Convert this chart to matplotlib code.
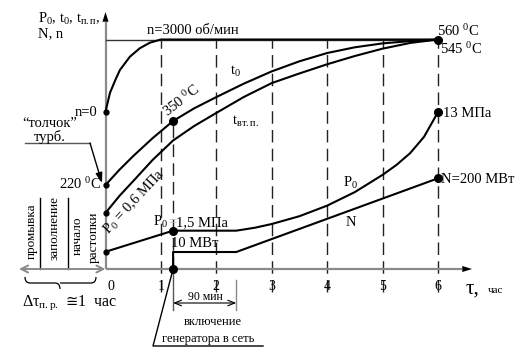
import matplotlib
matplotlib.use("Agg")
import matplotlib.pyplot as plt
from matplotlib.path import Path
from matplotlib.patches import PathPatch

plt.rcParams['font.family'] = ['Liberation Serif', 'DejaVu Sans']
plt.rcParams['mathtext.fontset'] = 'custom'
plt.rcParams['mathtext.rm'] = 'Liberation Serif'
plt.rcParams['mathtext.it'] = 'Liberation Serif'

# ---------------- data (x in hours, y in % of full scale) ----------------
x_ticks = [0, 1, 2, 3, 4, 5, 6]
tick_labels = ['0', '1', '2', '3', '4', '5', '6']

n_x = [0, 0.08, 0.18, 0.26, 0.44, 0.62, 0.8, 1.0, 6.0]
n_y = [68.5, 76.7, 82.5, 86.7, 92.5, 96.2, 98.6, 100, 100]

t0_x = [0, 0.25, 0.5, 0.85, 1.22, 1.6, 2, 2.5, 3, 3.5, 4, 4.5, 5, 5.5, 6]
t0_y = [36.6, 43.2, 49.2, 57.0, 64.5, 70.0, 74.9, 80.8, 86.1, 90.5, 94.1, 96.6, 98.3, 99.3, 100]

tvp_x = [0, 0.25, 0.5, 0.85, 1.22, 1.6, 2, 2.5, 3, 3.5, 4, 4.5, 5, 5.5, 6]
tvp_y = [24.4, 31.8, 38.3, 47.5, 56.0, 62.3, 68.0, 75.0, 81.0, 85.2, 89.2, 92.8, 96.0, 98.5, 100]

p0_x = [0, 1.22, 2.36, 2.7, 3, 3.5, 4, 4.5, 5, 5.25, 5.5, 5.75, 6]
p0_y = [7.5, 16.7, 16.7, 18.0, 19.6, 23.0, 27.6, 33.5, 41.0, 45.3, 50.5, 57.6, 68.3]

N_x = [1.22, 1.22, 2.36, 6]
N_y = [0, 7.4, 7.4, 39.5]

x_gen = 1.22        # generator switched on
x_hold_end = 2.36   # end of 90-min hold
y_350 = 64.5

# ---------------- figure ----------------
W, H = 529, 357
fig = plt.figure(figsize=(W / 100, H / 100), dpi=100)
ax = fig.add_axes([0, 0, 1, 1])
X0, SX = 105.5, 55.4
Y0, SY = 269.0, 2.295
ax.set_xlim(-X0 / SX, (W - X0) / SX)
ax.set_ylim((Y0 - H) / SY, Y0 / SY)
ax.axis('off')


def X(px):
    return (px - X0) / SX


def Y(py):
    return (Y0 - py) / SY


gray = '#8a8a8a'
ink = 'black'

# axes
ax.annotate('', xy=(X(472), 0), xytext=(0, 0),
            arrowprops=dict(arrowstyle='-|>,head_length=0.7,head_width=0.22',
                            color='black', lw=0, shrinkA=0, shrinkB=0))
ax.plot([0, X(462)], [0, 0], color=gray, lw=1.6, solid_capstyle='butt', zorder=2)
ax.annotate('', xy=(0, Y(12)), xytext=(0, 0),
            arrowprops=dict(arrowstyle='-|>,head_length=0.7,head_width=0.22',
                            color='black', lw=0, shrinkA=0, shrinkB=0))
ax.plot([0, 0], [0, Y(22)], color=gray, lw=1.6, solid_capstyle='butt', zorder=2)
# pre-start interval double arrow
ax.annotate('', xy=(X(19), 0), xytext=(0, 0),
            arrowprops=dict(arrowstyle='<->,head_length=0.5,head_width=0.25',
                            color=gray, lw=1.4, shrinkA=0, shrinkB=0))

# dashed vertical lines
for xv in x_ticks[1:]:
    ax.plot([xv, xv], [Y(292), 100], color='#222222', lw=1.0,
            dashes=(9, 4.5), zorder=1)
ax.plot([x_gen, x_gen], [0, y_350], color='#222222', lw=1.0, dashes=(9, 4.5), zorder=1)
ax.plot([x_gen, x_gen], [Y(310), 0], color='#555555', lw=1.0, zorder=1)

# tick labels
for xv, lab in zip(x_ticks, tick_labels):
    ax.text(xv + (0.1 if xv == 0 else 0), Y(286), lab, ha='center', va='center', fontsize=10)

# curves
ax.plot(n_x, n_y, color=ink, lw=1.5, zorder=3)
ax.plot([0, 6], [100, 100], color='#333333', lw=1.0, zorder=2)
ax.plot(t0_x, t0_y, color=ink, lw=1.5, zorder=3)
ax.plot(tvp_x, tvp_y, color=ink, lw=1.5, zorder=3)
ax.plot(p0_x, p0_y, color=ink, lw=1.5, zorder=3)
ax.plot(N_x, N_y, color=ink, lw=1.5, zorder=3)

# dots
small = dict(marker='o', ms=3.5, color=ink, zorder=4, ls='none')
big = dict(marker='o', ms=5.5, color=ink, zorder=4, ls='none')
ax.plot([0, 0, 0, 0], [n_y[0], t0_y[0], tvp_y[0], p0_y[0]], **small)
ax.plot([x_gen, x_gen, x_gen, 6, 6, 6],
        [y_350, p0_y[1], 0, t0_y[-1], p0_y[-1], N_y[-1]], **big)

fs = 10.5
# labels
ax.text(X(38), Y(23), r'P$_0$, t$_0$, t$_{\rm п.п}$,', fontsize=fs, ha='left', va='baseline')
ax.text(X(38), Y(37), 'N, n', fontsize=fs, ha='left', va='baseline')
ax.text(X(147), Y(34), 'n=3000 об/мин', fontsize=fs, ha='left', va='baseline')
ax.text(X(437), Y(36), r'560 $^0$C', fontsize=fs, ha='left', va='baseline')
ax.text(X(440), Y(54), r'545 $^0$C', fontsize=fs, ha='left', va='baseline')
ax.text(X(230), Y(75), r't$_0$', fontsize=fs, ha='left', va='baseline')
ax.text(X(232), Y(125), r't$_{\rm вт.п.}$', fontsize=fs, ha='left', va='baseline')
ax.text(X(343), Y(187), r'P$_0$', fontsize=fs, ha='left', va='baseline')
ax.text(X(346), Y(226), 'N', fontsize=fs, ha='left', va='baseline')
ax.text(X(443), Y(117), '13 МПа', fontsize=fs, ha='left', va='baseline')
ax.text(X(441), Y(183), 'N=200 МВт', fontsize=fs, ha='left', va='baseline')
ax.text(X(153), Y(226), r'P$_0$', fontsize=fs, ha='left', va='baseline')
ax.text(X(168), Y(225), '=', fontsize=fs, ha='left', va='baseline', color='#bbbbbb')
ax.text(X(176), Y(226), '1,5 МПа', fontsize=fs, ha='left', va='baseline')
ax.text(X(171), Y(247), '10 МВт', fontsize=fs, ha='left', va='baseline')
ax.text(X(97), Y(116), 'n=0', fontsize=fs, ha='right', va='baseline')
ax.text(X(101), Y(189), r'220 $^0$C', fontsize=fs, ha='right', va='baseline')
ax.text(X(181), Y(101), r'350 $^0$C', fontsize=fs, ha='center', va='center', rotation=38)
ax.text(X(134), Y(202), r'P$_0$ = 0,6 МПа', fontsize=fs, ha='center', va='center', rotation=47)

# tau axis label
ax.text(X(466), Y(294), 'τ,', fontsize=15, ha='left', va='baseline')
ax.text(X(488), Y(293), 'час', fontsize=8, ha='left', va='baseline')

# "толчок" callout
ax.text(X(50), Y(127), '“толчок”', fontsize=fs, ha='center', va='baseline')
ax.text(X(50), Y(141), 'турб.', fontsize=fs, ha='center', va='baseline')
ax.plot([X(25), X(90)], [Y(143), Y(143)], color='#555555', lw=1.0)
ax.annotate('', xy=(X(102), Y(183)), xytext=(X(90), Y(143)),
            arrowprops=dict(arrowstyle='-|>,head_length=0.6,head_width=0.2',
                            color='black', lw=1.0, shrinkA=0, shrinkB=0))

# pre-start stages
ax.plot([X(40), X(40)], [0, Y(198)], color=ink, lw=1.0)
ax.plot([X(68), X(68)], [0, Y(198)], color=ink, lw=1.0)
vfs = 9.5
ax.text(X(32), Y(231), 'промывка', fontsize=vfs, rotation=90, ha='center', va='center')
ax.text(X(55), Y(228), 'заполнение', fontsize=vfs, rotation=90, ha='center', va='center')
ax.text(X(78), Y(236), 'начало', fontsize=vfs, rotation=90, ha='center', va='center')
ax.text(X(94), Y(237), 'растопки', fontsize=vfs, rotation=90, ha='center', va='center')

# brace
verts = [(X(25), Y(277)), (X(25), Y(283)), (X(30), Y(283)),
         (X(55), Y(283)), (X(60), Y(283)), (X(60), Y(289)),
         (X(60), Y(283)), (X(65), Y(283)),
         (X(91), Y(283)), (X(96), Y(283)), (X(96), Y(277))]
codes = [Path.MOVETO, Path.CURVE3, Path.CURVE3,
         Path.LINETO, Path.CURVE3, Path.CURVE3,
         Path.MOVETO, Path.LINETO,
         Path.LINETO, Path.CURVE3, Path.CURVE3]
ax.add_patch(PathPatch(Path(verts, codes), fill=False, lw=0.9, color=ink))
ax.text(X(22), Y(306), r'Δτ$_{\rm п.р.}$', fontsize=11.5, ha='left', va='baseline')
ax.text(X(65), Y(306), '≅', fontsize=10.5, ha='left', va='baseline',
        family=['DejaVu Sans'])
ax.text(X(78), Y(306), '1  час', fontsize=11.5, ha='left', va='baseline')

# 90 min dimension
ax.plot([x_hold_end, x_hold_end], [Y(310), Y(280)], color=gray, lw=1.0)
ax.annotate('', xy=(x_hold_end, Y(303)), xytext=(x_gen, Y(303)),
            arrowprops=dict(arrowstyle='<->,head_length=0.5,head_width=0.2',
                            color=ink, lw=0.8, shrinkA=0, shrinkB=0))
ax.text(X(205), Y(300), '90 мин', fontsize=8.5, ha='center', va='baseline')

# generator callout
ax.plot([x_gen, X(153), X(263)], [0, Y(346), Y(346)], color=ink, lw=1.0)
ax.text(X(213), Y(325), 'включение', fontsize=9, ha='center', va='baseline')
ax.text(X(208), Y(342), 'генератора в сеть', fontsize=9, ha='center', va='baseline')

fig.savefig('out.png', dpi=100)
